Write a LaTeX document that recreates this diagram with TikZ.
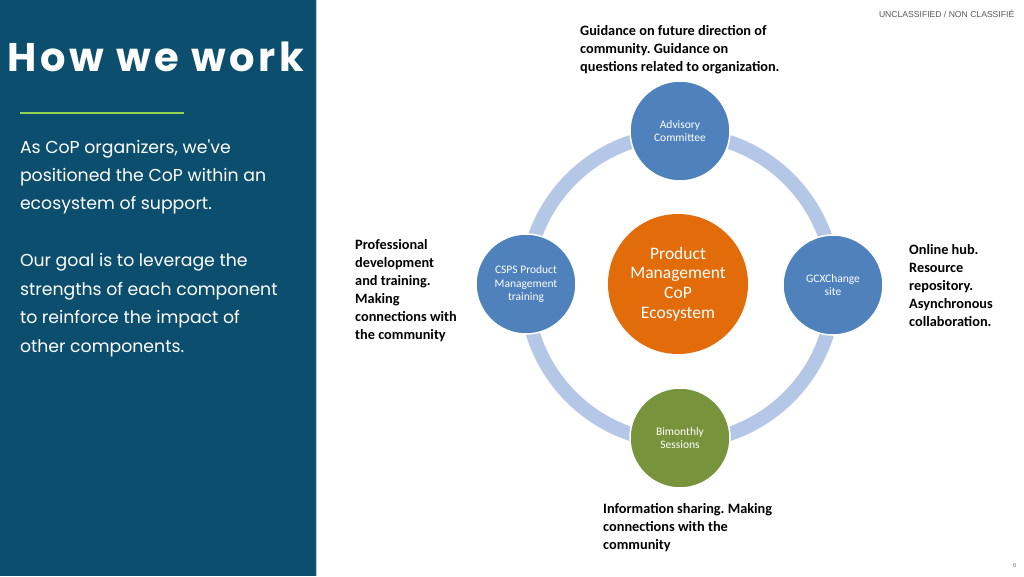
\documentclass[tikz,border=0pt]{standalone}
\usepackage{fontspec}
\setmainfont{Carlito}
\newfontfamily\titlefont{Poppins}
\newfontfamily\titlefontsp[LetterSpace=9]{Poppins}
\newfontfamily\armfont{Liberation Sans}
\definecolor{panel}{RGB}{12,78,110}
\definecolor{lime}{RGB}{146,208,80}
\definecolor{ringc}{RGB}{180,199,231}
\definecolor{blueC}{RGB}{79,129,189}
\definecolor{orangeC}{RGB}{227,108,10}
\definecolor{greenC}{RGB}{119,147,60}
\frenchspacing
\begin{document}
\begin{tikzpicture}[x=1pt,y=-1pt,
  txt/.style={anchor=base west,inner sep=0pt,outer sep=0pt},
  body/.style={txt,text=white,font=\titlefont\fontsize{17.3}{17.3}\selectfont},
  note/.style={anchor=north west,inner sep=0pt,align=left,font=\bfseries\fontsize{14.3}{18}\selectfont},
  sat/.style={circle,draw=white,line width=1.5pt,minimum size=100pt,inner sep=0pt,align=center,text=white,font=\fontsize{11.5}{13.3}\selectfont}]
\useasboundingbox (0,0) rectangle (1024,576);
\fill[white] (0,0) rectangle (1024,576);
\fill[panel] (0,0) rectangle (316,576);
\draw[gray!40,line width=1pt] (316.5,0) -- (316.5,576);
\node[txt,text=white,font=\titlefontsp\bfseries\fontsize{40}{40}\selectfont] (title) at (8,71) {How we work};
\coordinate (g1) at (20,113);
\coordinate (g2) at (184,113);
\draw[lime,line width=2.2pt] (g1) -- (g2);
\node[body] (b1) at (20,153) {As CoP organizers, we've};
\node[body] (b2) at (20,181) {positioned the CoP within an};
\node[body] (b3) at (20,209) {ecosystem of support.};
\node[body] (b4) at (20,266) {Our goal is to leverage the};
\node[body] (b5) at (20,295) {strengths of each component};
\node[body] (b6) at (20,323) {to reinforce the impact of};
\node[body] (b7) at (20,352) {other components.};
\node[txt,text=gray!70!black,font=\armfont\fontsize{8.6}{8.6}\selectfont] (uc) at (879,17) {UNCLASSIFIED / NON CLASSIFIÉ};
\node[txt,text=gray,font=\armfont\fontsize{6}{6}\selectfont] (pg) at (1013,567) {6};
% ring
\node[circle,draw=ringc,line width=14pt,minimum size=308pt,inner sep=0pt] (ring) at (680,288) {};
\node[circle,fill=orangeC,minimum size=140pt,inner sep=0pt,align=center,text=white,font=\fontsize{17.5}{19.7}\selectfont] (core) at (678,284) {Product\\Management\\CoP\\Ecosystem};
\node[sat,fill=blueC] (adv) at (680,131) {Advisory\\Committee};
\node[sat,fill=blueC] (csps) at (526,284) {CSPS Product\\Management\\training};
\node[sat,fill=blueC] (gcx) at (833,285) {GCXChange\\site};
\node[sat,fill=greenC] (bim) at (680,438) {Bimonthly\\Sessions};
\node[note] (n1) at (580,25) {Guidance on future direction of\\community. Guidance on\\questions related to organization.};
\node[note] (n2) at (355,239) {Professional\\development\\and training.\\Making\\connections with\\the community};
\node[note] (n3) at (909,244) {Online hub.\\Resource\\repository.\\Asynchronous\\collaboration.};
\node[note] (n4) at (603,503) {Information sharing. Making\\connections with the\\community};
\end{tikzpicture}
\end{document}
